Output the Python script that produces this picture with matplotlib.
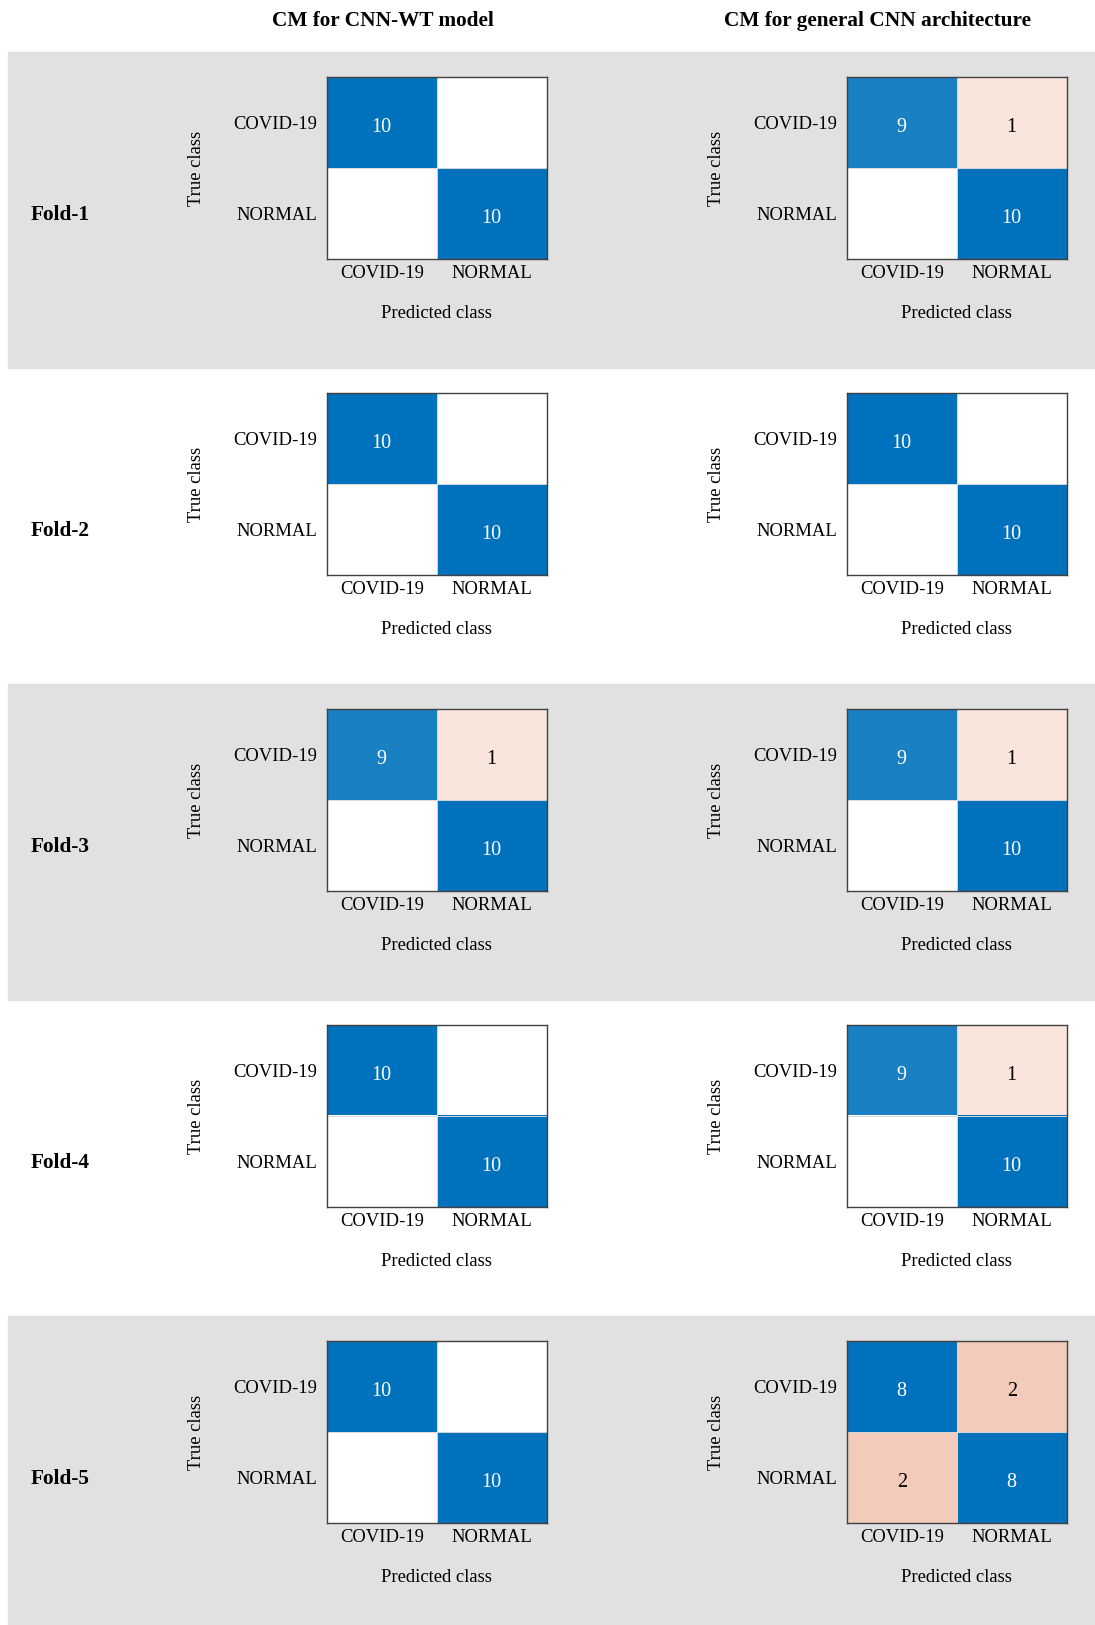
import numpy as np
import matplotlib
matplotlib.use('Agg')
import matplotlib.pyplot as plt
from matplotlib.patches import Rectangle

plt.rcParams['font.family'] = ['Liberation Serif', 'DejaVu Serif']

classes = ['COVID-19', 'NORMAL']
folds = ['Fold-1', 'Fold-2', 'Fold-3', 'Fold-4', 'Fold-5']
col_titles = ['CM for CNN-WT model', 'CM for general CNN architecture']

# rows = true class, cols = predicted class
cnn_wt_cms = [
    [[10, 0], [0, 10]],
    [[10, 0], [0, 10]],
    [[9, 1], [0, 10]],
    [[10, 0], [0, 10]],
    [[10, 0], [0, 10]],
]
general_cnn_cms = [
    [[9, 1], [0, 10]],
    [[10, 0], [0, 10]],
    [[9, 1], [0, 10]],
    [[9, 1], [0, 10]],
    [[8, 2], [2, 8]],
]

W, H = 1095, 1625
fig = plt.figure(figsize=(W / 100, H / 100), dpi=100)

blue = np.array([0, 114, 189]) / 255
orange = np.array([217, 83, 25]) / 255
white = np.ones(3)


def cell_colors(cm):
    cm = np.array(cm, dtype=float)
    dmax = cm.diagonal().max()
    rgb = np.ones((2, 2, 3))
    for i in range(2):
        for j in range(2):
            v = cm[i, j]
            if v == 0:
                continue
            if i == j:
                t = v / dmax
                rgb[i, j] = white + t * (blue - white)
            else:
                t = min(1.0, 0.15 * v)
                rgb[i, j] = white + t * (orange - white)
    return rgb


# alternating grey bands behind the odd folds
band_top, band_h = 52, 316
for k in range(0, len(folds), 2):
    y0 = band_top + k * band_h
    fig.patches.append(Rectangle((8 / W, 1 - (y0 + band_h) / H), 1 - 8 / W, band_h / H,
                                 transform=fig.transFigure, color='#e1e1e1', zorder=-5))

# column titles
fig.text(383 / W, 1 - 21 / H, col_titles[0], ha='center', va='center',
         fontsize=15.3, fontweight='bold')
fig.text(877 / W, 1 - 21 / H, col_titles[1], ha='center', va='center',
         fontsize=15.3, fontweight='bold')

ax_w, ax_h = 220, 182
lefts = [326.7, 846.7]
for r, fold in enumerate(folds):
    top = 77.3 + r * 316
    fig.text(31 / W, 1 - (band_top + r * band_h + band_h / 2 + 5) / H, fold,
             ha='left', va='center', fontsize=15.3, fontweight='bold')
    for c, cms in enumerate([cnn_wt_cms, general_cnn_cms]):
        cm = cms[r]
        ax = fig.add_axes([lefts[c] / W, 1 - (top + ax_h) / H, ax_w / W, ax_h / H])
        ax.imshow(cell_colors(cm), aspect='auto', interpolation='nearest')
        for i in range(2):
            for j in range(2):
                v = cm[i][j]
                if v == 0:
                    continue
                ax.text(j, i + 0.05, str(v), ha='center', va='center', fontsize=14.5,
                        color='white' if i == j else 'black')
        # faint cell separators
        ax.axhline(0.5, color='#d8d8d8', lw=0.7)
        ax.axvline(0.5, color='#d8d8d8', lw=0.7)
        ax.set_xticks([0, 1])
        ax.set_yticks([0, 1])
        ax.set_xticklabels(classes, fontsize=13.4)
        ax.set_yticklabels(classes, fontsize=13.4)
        ax.tick_params(length=0)
        ax.tick_params(axis='x', pad=4)
        ax.tick_params(axis='y', pad=7)
        for s in ax.spines.values():
            s.set_color('#404040')
            s.set_linewidth(1.0)
        ax.text(-130 / ax_w, 0.5, 'True class', transform=ax.transAxes, rotation=90,
                ha='center', va='center', fontsize=13.4)
        ax.text(0.5, -54 / ax_h, 'Predicted class', transform=ax.transAxes,
                ha='center', va='center', fontsize=13.4)

fig.savefig('out.png', dpi=100, facecolor='white')
